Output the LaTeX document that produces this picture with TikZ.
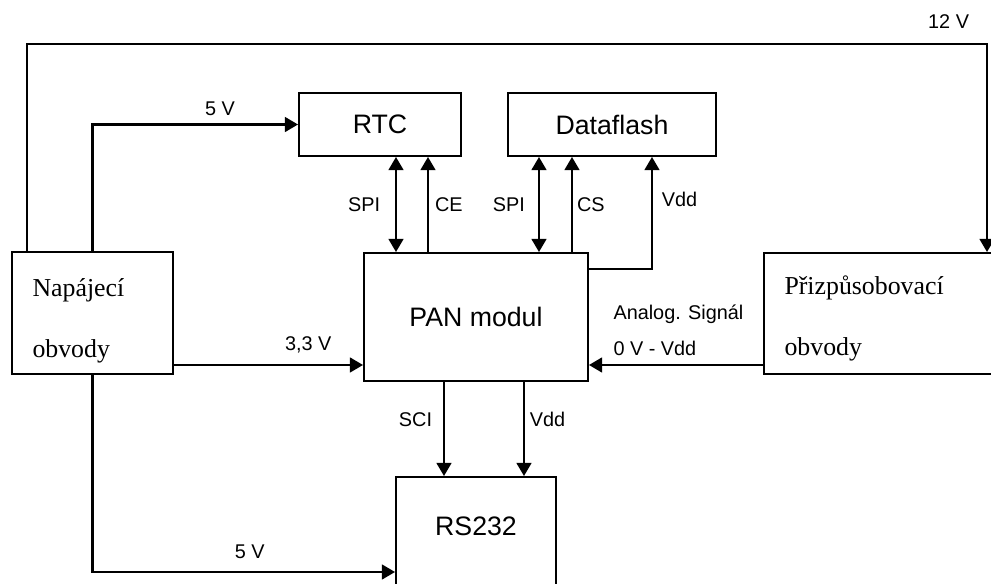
\documentclass[tikz,border=0pt]{standalone}
\usepackage{fontspec}
\setmainfont{Liberation Sans}
\newfontfamily\serifbox{Liberation Serif}
\usetikzlibrary{arrows.meta,positioning,calc}
\tikzset{
  blk/.style={rectangle, draw=black, line width=1.15pt, inner sep=0pt, align=center,
              font=\fontsize{15.2}{18}\selectfont},
  txt/.style={blk, align=left, inner xsep=0.41cm,
              font=\serifbox\fontsize{14.7}{34.6}\selectfont},
  ar/.style={-{Triangle[length=7.5pt,width=8.5pt]}, line width=1.15pt},
  dar/.style={{Triangle[length=7.5pt,width=8.5pt]}-{Triangle[length=7.5pt,width=8.5pt]}, line width=1.15pt},
  lbl/.style={font=\fontsize{11.3}{13.6}\selectfont, inner sep=2pt},
}

\begin{document}
\begin{tikzpicture}[x=0.02cm, y=-0.02cm]
\useasboundingbox (0,0) rectangle (991,584);
\clip (0,0) rectangle (991,584);

% ============================ blocks ====================================
\node[txt, anchor=north west, text width=2.40cm, text height=0.89cm, text depth=1.55cm]
  (nap) at (11,251) {Napájecí\\obvody};
\node[txt, anchor=north west, text width=4.0cm, text height=0.83cm, text depth=1.59cm]
  (prizp) at (763,252) {Přizpůsobovací\\obvody};
\node[blk, anchor=north west, minimum width=3.24cm, minimum height=1.26cm]
  (rtc) at (298,92) {RTC};
\node[blk, anchor=north west, minimum width=4.16cm, minimum height=1.26cm]
  (flash) at (507,92) {Dataflash};
\node[blk, anchor=north west, minimum width=4.48cm, minimum height=2.56cm]
  (pan) at (363,252) {PAN modul};
\node[blk, anchor=north west, minimum width=3.2cm, text height=1.18cm, text depth=1.3cm]
  (rs) at (395,476) {RS232};

% ============================ bus points ================================
\coordinate (spiR) at ($(rtc.south)+(16,0)$);
\coordinate (ceR)  at ($(rtc.south)+(48,0)$);
\coordinate (spiF) at ($(flash.south)+(-73,0)$);
\coordinate (csF)  at ($(flash.south)+(-40,0)$);
\coordinate (vddF) at ($(flash.south)+(40,0)$);
\coordinate (sciP) at ($(pan.south)+(-32,0)$);
\coordinate (vddP) at ($(pan.south)+(48,0)$);

% ============================ supply lines ==============================
\draw[ar] ($(nap.north west)+(16,0)$) -- ++(0,-207)
  -| node[lbl, pos=0.48, above=6.5pt] {12 V} ($(prizp.north west)+(224,0)$);
\draw[ar] (nap.north) |- node[lbl, pos=0.81, above=2.5pt] {5 V} (rtc.west);
\draw[ar] ($(nap.east)+(0,52)$) coordinate (n33)
  -- node[lbl, pos=0.71, above=4.2pt] {3,3 V} (n33 -| pan.west);
\draw[ar] (nap.south) |- node[lbl, pos=0.76, above=4.8pt] {5 V} ($(rs.north west)+(0,96)$);

% ============================ PAN links =================================
\draw[dar] (spiR) -- node[lbl, left=6.5pt] {SPI} (spiR |- pan.north);
\draw[ar] (ceR |- pan.north) -- node[lbl, right=1.5pt] {CE} (ceR);
\draw[dar] (spiF) -- node[lbl, left=5.4pt] {SPI} (spiF |- pan.north);
\draw[ar] (csF |- pan.north) -- node[lbl, right=0.3pt] {CS} (csF);
\draw[ar] ($(pan.east)+(0,-48)$) -| node[lbl, pos=0.81, right=3pt] {Vdd} (vddF);
\draw[ar] (sciP) -- node[lbl, pos=0.4, left=4.2pt] {SCI} (sciP |- rs.north);
\draw[ar] (vddP) -- node[lbl, pos=0.4, right=0.8pt] {Vdd} (vddP |- rs.north);
\draw[ar] ($(prizp.west)+(0,51.5)$) coordinate (an)
  -- node[lbl, pos=0.885, anchor=south west, yshift=3pt, align=left,
          font=\fontsize{11.3}{20.4}\selectfont] {Analog. Signál\\0 V - Vdd} (an -| pan.east);

\end{tikzpicture}
\end{document}
